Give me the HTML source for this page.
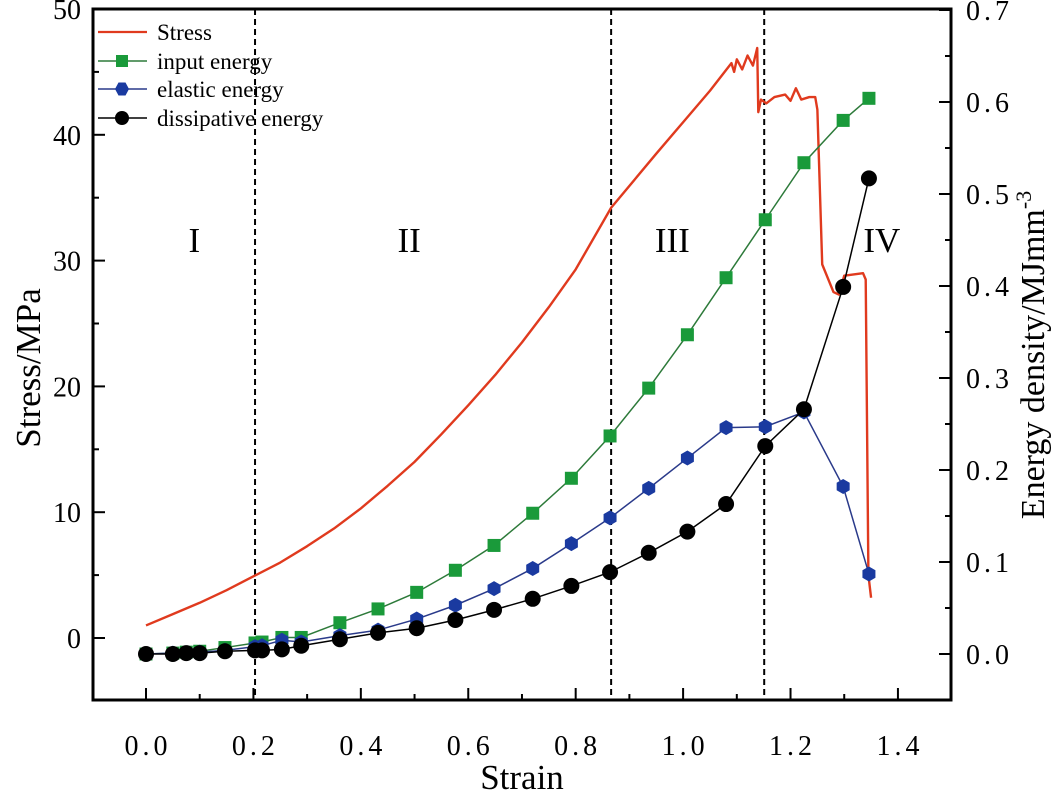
<!DOCTYPE html>
<html><head><meta charset="utf-8"><style>
body{margin:0;background:#fff}
svg{display:block;font-family:"Liberation Serif","Noto Serif CJK SC",serif}
</style></head><body>
<svg id="chart" width="1063" height="794" viewBox="0 0 1063 794">
<g id="marks"></g>
<g id="axes"></g>
<text x="522" y="789" font-size="35" text-anchor="middle">Strain</text>
<text transform="translate(40,368) rotate(-90)" font-size="35" text-anchor="middle">Stress/MPa</text>
<text transform="translate(1044,355) rotate(-90)" font-size="34" text-anchor="middle">Energy density/MJmm<tspan dy="-13" font-size="22">-3</tspan></text>
<g font-size="23">
 <g><line x1="98" x2="147" y1="32" y2="32" stroke="#e03a1e" stroke-width="2.2"/><text x="157" y="40">Stress</text></g>
 <g><line x1="98" x2="147" y1="61" y2="61" stroke="#2d7a3a" stroke-width="1.5"/><rect x="116" y="55" width="12" height="12" fill="#1a9a3a"/><text x="157" y="69">input energy</text></g>
 <g><line x1="98" x2="147" y1="89" y2="89" stroke="#2a3a8a" stroke-width="1.5"/><polygon points="129,89 125.5,95.5 118.5,95.5 115,89 118.5,82.5 125.5,82.5" fill="#1a3aa0"/><text x="157" y="97">elastic energy</text></g>
 <g><line x1="98" x2="147" y1="118" y2="118" stroke="#000" stroke-width="1.5"/><circle cx="122" cy="118" r="7" fill="#000"/><text x="157" y="126">dissipative energy</text></g>
</g>
</svg>
<script>
const strainPts=[0,0.05,0.075,0.1,0.147,0.203,0.216,0.253,0.289,0.361,0.432,0.504,0.576,0.648,0.72,0.792,0.864,0.936,1.008,1.08,1.153,1.225,1.298,1.346];
const inputEnergy=[0,0.001,0.002,0.003,0.007,0.012,0.013,0.018,0.018,0.034,0.049,0.067,0.091,0.118,0.153,0.191,0.237,0.289,0.347,0.409,0.472,0.534,0.58,0.604];
const elasticEnergy=[0,0.001,0.001,0.002,0.004,0.008,0.009,0.015,0.013,0.02,0.026,0.038,0.053,0.071,0.093,0.12,0.148,0.18,0.213,0.246,0.247,0.263,0.182,0.087];
const dissipEnergy=[0,0,0.001,0.001,0.003,0.004,0.004,0.005,0.009,0.016,0.023,0.028,0.037,0.048,0.06,0.074,0.089,0.11,0.133,0.163,0.226,0.266,0.399,0.517];
const stressStrain=[0,0.05,0.1,0.15,0.2,0.25,0.3,0.35,0.4,0.45,0.5,0.55,0.6,0.65,0.7,0.75,0.8,0.866,0.95,1.0,1.05,1.09,1.095,1.1,1.11,1.12,1.13,1.138,1.14,1.145,1.155,1.17,1.19,1.2,1.21,1.22,1.235,1.246,1.25,1.259,1.28,1.29,1.3,1.335,1.34,1.345,1.35];
const stressVals=[1.0,1.9,2.8,3.8,4.9,6.0,7.3,8.7,10.3,12.1,14.0,16.2,18.5,20.9,23.5,26.3,29.3,34.2,38.5,41,43.5,45.7,45.0,46,45.2,46.3,45.5,46.9,41.8,42.8,42.5,43.0,43.2,42.7,43.7,42.8,43.0,43.0,42,29.7,27.5,27.3,28.8,29.0,28.5,5,3.2];
const xTicks=[0,0.2,0.4,0.6,0.8,1.0,1.2,1.4];
const xTickLabels=["0.0","0.2","0.4","0.6","0.8","1.0","1.2","1.4"];
const yTicks=[0,10,20,30,40,50];
const y2Ticks=[0,0.1,0.2,0.3,0.4,0.5,0.6,0.7];
const y2TickLabels=["0.0","0.1","0.2","0.3","0.4","0.5","0.6","0.7"];
const phaseBounds=[0.203,0.866,1.151];
const phaseLabels=["I","II","III","IV"];
const phaseLabelX=[0.09,0.49,0.98,1.37];

const L=93,R=951,T=9,B=700;
const X=v=>146+v*537.1;
const Y=v=>638-v*12.58;
const Y2=v=>654-v*920;
const NS="http://www.w3.org/2000/svg";
const marks=document.getElementById('marks'),axes=document.getElementById('axes');
function mk(tag,attrs,parent){const e=document.createElementNS(NS,tag);for(const k in attrs)e.setAttribute(k,attrs[k]);parent.appendChild(e);return e;}

phaseBounds.forEach((b,i)=>{
 const l=mk('line',{x1:X(b),x2:X(b),y1:T,y2:B,stroke:'#000','stroke-width':2,'stroke-dasharray':'6,4'},marks);
 
 
});
phaseLabels.forEach((t,i)=>{
 const e=mk('text',{x:X(phaseLabelX[i]),y:252,'font-size':35,'text-anchor':'middle'},marks);e.textContent=t;
 
 
});
const sp=mk('polyline',{points:stressStrain.map((s,i)=>X(s)+','+Y(stressVals[i])).join(' '),fill:'none',stroke:'#e03a1e','stroke-width':2.4,'stroke-linejoin':'round'},marks);


function series(vals,color,lineColor,shape,name){
 const g=mk('g',{},marks);
 
 
 mk('polyline',{points:strainPts.map((s,i)=>X(s)+','+Y2(vals[i])).join(' '),fill:'none',stroke:lineColor,'stroke-width':1.5},g);
 strainPts.forEach((s,i)=>{
  const cx=X(s),cy=Y2(vals[i]);let m;
  if(shape==='sq')m=mk('rect',{x:cx-6.5,y:cy-6.5,width:13,height:13,fill:color},g);
  else if(shape==='hex'){const r=7.5;let p=[];for(let k=0;k<6;k++){const a=Math.PI/3*k+Math.PI/6;p.push((cx+r*Math.cos(a))+','+(cy+r*Math.sin(a)));}m=mk('polygon',{points:p.join(' '),fill:color},g);}
  else m=mk('circle',{cx:cx,cy:cy,r:8,fill:color},g);
  
  
 });
}
series(inputEnergy,'#1a9a3a','#2d7a3a','sq','input-energy');
series(elasticEnergy,'#1a3aa0','#2a3a8a','hex','elastic-energy');
series(dissipEnergy,'#000','#000','circ','dissipative-energy');

const fr=mk('rect',{x:L,y:T,width:R-L,height:B-T,fill:'none',stroke:'#000','stroke-width':3},axes);


for(let v=0;v<=1.45;v+=0.1){const x=X(v);mk('line',{x1:x,x2:x,y1:B,y2:B-(Math.round(v*10)%2===0?12:6),stroke:'#000','stroke-width':2},axes);}
xTicks.forEach((v,i)=>{const e=mk('text',{x:X(v)+2,y:755,'font-size':28,'text-anchor':'middle','letter-spacing':'4'},axes);e.textContent=xTickLabels[i];
 
 });
for(let v=0;v<=50;v+=5){const y=Y(v);mk('line',{x1:L,x2:L+(v%10===0?12:6),y1:y,y2:y,stroke:'#000','stroke-width':2},axes);}
yTicks.forEach(v=>{const e=mk('text',{x:81,y:Y(v)+10,'font-size':28,'text-anchor':'end'},axes);e.textContent=v;
 
 });
for(let v=0;v<=0.7001;v+=0.05){const y=Y2(v);mk('line',{x1:R,x2:R-(Math.round(v*20)%2===0?12:6),y1:y,y2:y,stroke:'#000','stroke-width':2},axes);}
y2Ticks.forEach((v,i)=>{const e=mk('text',{x:966,y:Y2(v)+10,'font-size':28,'letter-spacing':'4'},axes);e.textContent=y2TickLabels[i];
 
 });
</script>
</body></html>
